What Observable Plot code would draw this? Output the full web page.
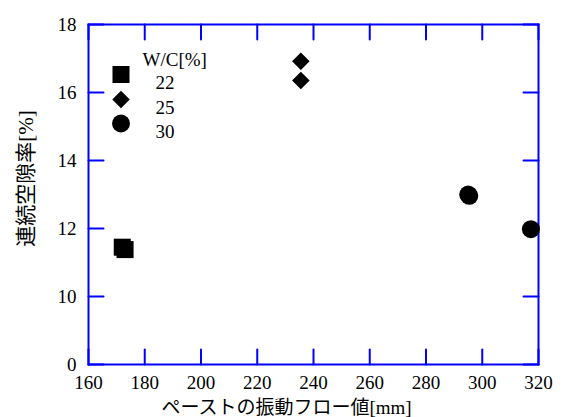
<!DOCTYPE html>
<html><head><meta charset="utf-8">
<script src="https://cdn.jsdelivr.net/npm/d3@7"></script>
<script src="https://cdn.jsdelivr.net/npm/@observablehq/plot@0.6"></script>
<style>
body{margin:0;background:#fff;} svg{display:block;}
</style>
</head><body><div id="chart"></div>
<script>
// Data
const wcGroups = ["22", "25", "30"];
const flowValues = [172, 173, 235.5, 235.5, 295, 295.4, 317.3];
const porosityValues = [11.45, 11.38, 16.92, 16.35, 13.0, 12.96, 11.98];
const pointGroups = ["22", "22", "25", "25", "30", "30", "30"];
const xTicks = [160, 180, 200, 220, 240, 260, 280, 300, 320];
const yTicks = [8, 10, 12, 14, 16, 18]; // bottom tick is labelled "0" (broken axis)
const yTickLabels = ["0", "10", "12", "14", "16", "18"];

const symbolOf = {"22": "square", "25": "diamond2", "30": "circle"};
const radiusOf = {"22": 9.6, "25": 7.9, "30": 9};
const points = flowValues.map((x, i) => ({x, y: porosityValues[i], g: pointGroups[i]}));

const W = 563, H = 417, ML = 88, MR = 25, MT = 24, MB = 53;
const TICK = 15;
const blue = "#0000ff";
const serifFont = "'Liberation Serif', 'Noto Sans CJK JP', serif";
const txt = {fontFamily: serifFont, fontSize: 19, fill: "#000", fontVariant: "normal"};
const tickShape = {draw(context, l) { context.moveTo(0, 0); context.lineTo(0, -l); }};
const tickStyle = {length: TICK, anchor: "start", shape: tickShape, stroke: blue, strokeWidth: 2};

const legendMarks = [
  Plot.text(["W/C[%]"], {...txt, frameAnchor: "top-left", dx: 54, dy: 28, text: d => d, textAnchor: "start"})
];
wcGroups.forEach((g, i) => {
  const dy = [50, 75, 99][i];
  legendMarks.push(Plot.dot([g], {frameAnchor: "top-left", dx: 32.5, dy, symbol: symbolOf[g], r: radiusOf[g], fill: "#000", stroke: null}));
  legendMarks.push(Plot.text([g], {...txt, frameAnchor: "top-left", dx: 67, dy: dy + 1, text: d => d, textAnchor: "start"}));
});

const chart = Plot.plot({
  width: W, height: H,
  marginLeft: ML, marginRight: MR, marginTop: MT, marginBottom: MB,
  style: {fontSize: "19px", color: "#000", background: "#fff", fontFamily: serifFont},
  x: {domain: [160, 320], axis: null},
  y: {domain: [8, 18], axis: null},
  r: {type: "identity"},
  symbol: {type: "identity"},
  marks: [
    // inward ticks on all four sides
    Plot.vector(xTicks, {...tickStyle, x: d => d, frameAnchor: "bottom", rotate: 0}),
    Plot.vector(xTicks, {...tickStyle, x: d => d, frameAnchor: "top", rotate: 180}),
    Plot.vector(yTicks, {...tickStyle, y: d => d, frameAnchor: "left", rotate: 90}),
    Plot.vector(yTicks, {...tickStyle, y: d => d, frameAnchor: "right", rotate: -90}),
    // tick labels
    Plot.text(xTicks, {...txt, x: d => d, text: d => String(d), frameAnchor: "bottom", dy: 11, lineAnchor: "top", textAnchor: "middle"}),
    Plot.text(yTicks, {...txt, y: d => d, text: (d, i) => yTickLabels[i], frameAnchor: "left", dx: -12, textAnchor: "end", lineAnchor: "middle"}),
    Plot.frame({stroke: blue, strokeWidth: 2}),
    Plot.dot(points, {x: "x", y: "y", symbol: d => symbolOf[d.g], r: d => radiusOf[d.g], fill: "#000", stroke: null}),
    ...legendMarks,
    Plot.text(["ペーストの振動フロー値[mm]"], {...txt, frameAnchor: "bottom", dx: -27, dy: 49, text: d => d}),
    Plot.text(["連続空隙率[%]"], {...txt, frameAnchor: "left", dx: -62, dy: -16, rotate: -90, text: d => d,
      textAnchor: "middle", fontSize: 21})
  ]
});
document.getElementById("chart").append(chart);
</script>
</body></html>
